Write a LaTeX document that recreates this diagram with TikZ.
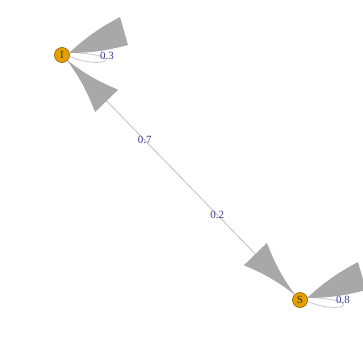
\documentclass[tikz,border=0pt]{standalone}
\usepackage{fontspec}
\setmainfont{Liberation Serif}
\usetikzlibrary{calc}
\definecolor{vertexfill}{RGB}{230,159,0}
\definecolor{vertexline}{RGB}{140,95,10}
\definecolor{edgegray}{RGB}{192,192,192}
\definecolor{loopgray}{RGB}{196,200,215}
\definecolor{headgray}{RGB}{168,168,168}
\definecolor{labelblue}{RGB}{60,60,150}
\begin{document}
\begin{tikzpicture}[x=1pt,y=-1pt,
    vertex/.style={circle,draw=vertexline,fill=vertexfill,minimum size=15pt,inner sep=0pt,
      font=\fontsize{11}{11}\selectfont,text=black!80},
    link/.style={draw=edgegray,line width=0.8pt},
    selflink/.style={draw=loopgray,line width=0.8pt},
    head/.style={fill=headgray},
    weight/.style={font=\fontsize{11}{12}\selectfont,text=labelblue,inner sep=0.5pt}]
  \useasboundingbox[fill=white] (0,0) rectangle (363,340);
  % vertices (placed first for their names, redrawn on top)
  \node[vertex] (I) at (62,55) {};
  \node[vertex] (S) at (300,300) {};
  % edges
  \draw[link] (I) -- (S);
  \draw[selflink] (I.-10) .. controls ($(I)+(40,16)$) and ($(I)+(70,0)$) .. (I.20);
  \draw[selflink] (S.-10) .. controls ($(S)+(40,16)$) and ($(S)+(70,0)$) .. (S.20);
  % arrow heads
  \coordinate (tI) at ($(I)!7.5pt!(S)$);
  \coordinate (bI) at ($(I)!64pt!(S)$);
  \fill[head] (tI) to[bend right=7] ($(bI)!16pt!90:(S)$) -- ($(bI)!16pt!-90:(S)$) to[bend right=7] (tI);
  \coordinate (tS) at ($(S)!7.5pt!(I)$);
  \coordinate (bS) at ($(S)!64pt!(I)$);
  \fill[head] (tS) to[bend right=7] ($(bS)!16pt!90:(I)$) -- ($(bS)!16pt!-90:(I)$) to[bend right=7] (tS);
  \foreach \v in {I,S}
    \fill[head] ($(\v)+(7,-2)$) to[bend right=7] ($(\v)+(66,-10)$) -- ($(\v)+(58,-38)$) to[bend right=7] ($(\v)+(7,-2)$);
  % vertices on top
  \node[vertex] at (I) {I};
  \node[vertex] at (S) {S};
  % weights
  \path (I) -- node[weight,pos=0.34] (wIS) {0.7} node[weight,pos=0.66] (wSI) {0.2} (S);
  \node[weight] (wII) at ($(I)+(45,1)$) {0.3};
  \node[weight] (wSS) at ($(S)+(43,0)$) {0.8};
\end{tikzpicture}
\end{document}
